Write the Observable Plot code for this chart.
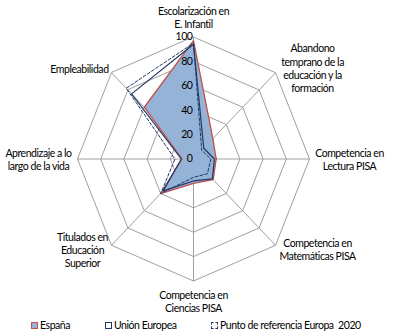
<!DOCTYPE html>
<html><head><meta charset="utf-8">
<script src="https://cdn.jsdelivr.net/npm/d3@7"></script>
<script src="https://cdn.jsdelivr.net/npm/@observablehq/plot@0.6"></script>
<style>
body{margin:0;background:#fff;font-family:Lato,"Noto Sans",sans-serif;}
#wrap{position:relative;width:403px;height:336px;overflow:hidden;background:#fff}
#topline{position:absolute;left:0;top:3px;width:400px;height:1px;background:#d9d9d9}
#chart{position:absolute;left:0;top:0}
.lg{position:absolute;top:318px;font-size:10.5px;letter-spacing:-0.45px;color:#000;line-height:14px;white-space:pre}
.sw{display:inline-block;width:5px;height:5px;margin-right:2px;vertical-align:0px}
</style></head><body>
<div id="wrap"><div id="topline"></div><div id="chart"></div><div id="legend"></div></div>
<script>
const categories = ["Escolarización en\nE. Infantil", "Abandono\ntemprano de la\neducación y la\nformación", "Competencia en\nLectura PISA", "Competencia en\nMatemáticas PISA", "Competencia en\nCiencias PISA", "Titulados en\nEducación\nSuperior", "Aprendizaje a lo\nlargo de la vida", "Empleabilidad"];
const espana = [97, 23.6, 19.5, 24, 20, 40, 10, 60];
const unionEuropea = [94, 12.5, 18, 23, 18, 37, 10.5, 75.5];
const referencia2020 = [95, 10, 15, 17, 15, 40, 16, 82];
const ticks = [0, 20, 40, 60, 80, 100];
const seriesNames = ["España", "Unión Europea", "Punto de referencia Europa  2020"];

// layout (pixels): label nudges from each axis end
const labelNudge = [[0,-20],[37,-4.7],[40,0],[42,4],[0,20],[-29,4.5],[-39,0],[-32,-4]];
const pxPerUnitX = 116/100, pxPerUnitY = 122/100;

const n = categories.length;
const ang = i => i * 2 * Math.PI / n;
const pt = (v, i) => ({x: v * Math.sin(ang(i)), y: v * Math.cos(ang(i))});

const rings = ticks.filter(t => t > 0).flatMap(t => categories.map((c, i) => ({ring: t, ...pt(t, i)})));
const spokes = categories.map((c, i) => pt(100, i));
const spainPts = espana.map((v, i) => pt(v, i));
const euPts = unionEuropea.map((v, i) => pt(v, i));
const refPts = referencia2020.map((v, i) => pt(v, i));
const labels = categories.map((c, i) => {
  const p = pt(100, i);
  return {text: c, x: p.x + labelNudge[i][0] / pxPerUnitX, y: p.y - labelNudge[i][1] / pxPerUnitY};
});

const navy = "#1F3864";
const chart = Plot.plot({
  width: 403, height: 316,
  margin: 0,
  x: {domain: [-100, 100], range: [77, 309], axis: null},
  y: {domain: [-100, 100], range: [280.5, 36.5], axis: null},
  style: {fontFamily: "Lato, 'Noto Sans', sans-serif", fontSize: "10.5px", letterSpacing: "-0.45px", background: "white", overflow: "visible"},
  marks: [
    Plot.line(rings, {x: "x", y: "y", z: "ring", curve: "linear-closed", stroke: "#a0a0a0", strokeWidth: 1}),
    Plot.link(spokes, {x1: 0, y1: 0, x2: "x", y2: "y", stroke: "#a0a0a0", strokeWidth: 1}),
    Plot.line(spainPts, {x: "x", y: "y", curve: "linear-closed", fill: "#95B3D7", stroke: "#C0504D", strokeWidth: 1.3}),
    Plot.line(euPts, {x: "x", y: "y", curve: "linear-closed", stroke: navy, strokeWidth: 1.2}),
    Plot.line(refPts, {x: "x", y: "y", curve: "linear-closed", stroke: navy, strokeWidth: 1, strokeDasharray: "3,2"}),
    Plot.text(ticks, {x: 0, y: d => d, text: d => String(d), textAnchor: "end", dx: -1, fontSize: 10.5, fill: "#000"}),
    Plot.text(labels, {x: "x", y: "y", text: "text", textAnchor: "middle", lineAnchor: "middle", lineHeight: 1.27, fontSize: 10.5, fill: "#000"})
  ]
});
document.getElementById("chart").appendChild(chart);

const swStyles = [
  "background:#95B3D7;border:1px solid #C0504D",
  "background:#fff;border:1px solid " + navy,
  "background:#fff;border:1px dashed " + navy
];
const lgLeft = [31, 105, 211];
const lg = document.getElementById("legend");
seriesNames.forEach((s, i) => {
  const d = document.createElement("div");
  d.className = "lg";
  d.style.left = lgLeft[i] + "px";
  d.innerHTML = `<span class="sw" style="${swStyles[i]}"></span>` + s;
  lg.appendChild(d);
});
</script>
</body></html>
